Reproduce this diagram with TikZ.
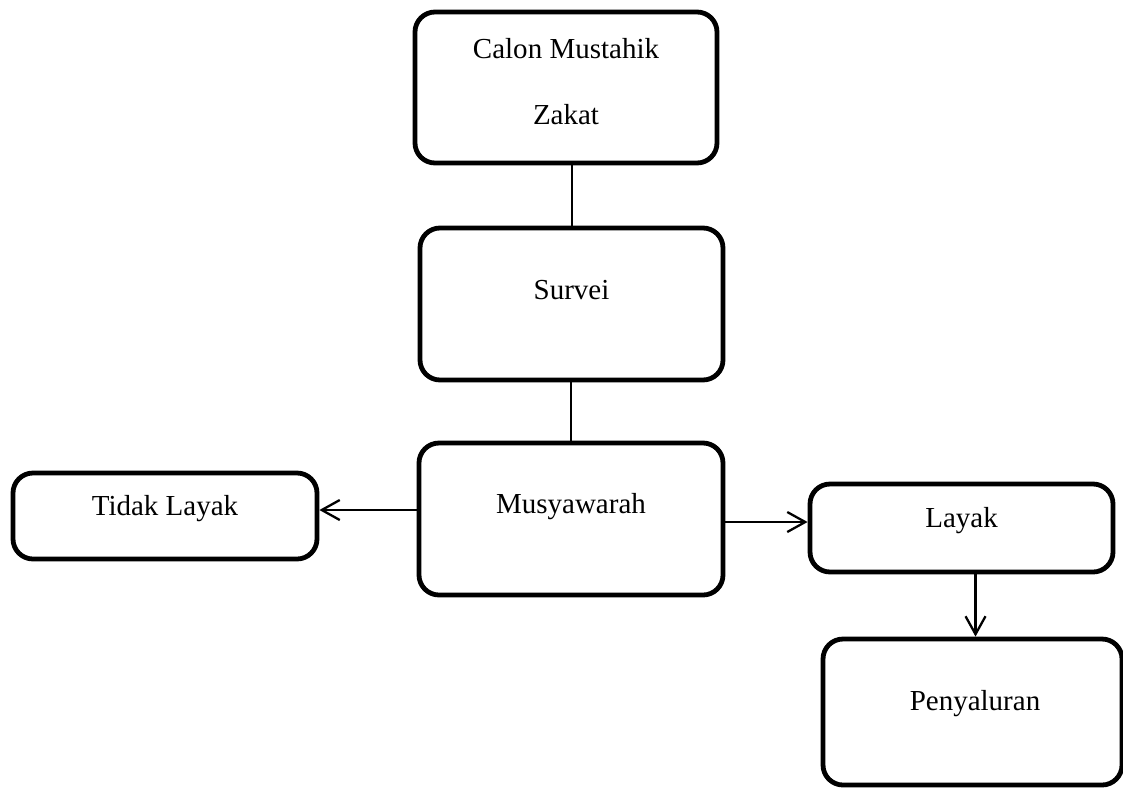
\documentclass[tikz,border=0pt]{standalone}
\usepackage{fontspec}
\setmainfont{Liberation Serif}
\usetikzlibrary{arrows.meta}
\tikzset{
  box/.style={draw=black, line width=2.4pt, rounded corners=10pt, inner sep=0pt, fill=white},
  lbl/.style={anchor=base, inner sep=0pt, font=\fontsize{14.5pt}{17pt}\selectfont},
  conn/.style={line width=1pt},
  arr/.style={line width=1.15pt, -{Straight Barb[length=9pt,width=10pt,line width=1.15pt]}}
}
\begin{document}
\begin{tikzpicture}[x=0.5pt,y=-0.5pt]
\useasboundingbox (0,0) rectangle (1123,788);
% boxes
\node[box, minimum width=151pt, minimum height=75.5pt] (cm) at (566,87.5) {};
\node[box, minimum width=151.5pt, minimum height=76pt] (sv) at (571.5,304) {};
\node[box, minimum width=152pt, minimum height=76pt] (mw) at (571,519) {};
\node[box, minimum width=152pt, minimum height=43pt] (tl) at (165,516) {};
\node[box, minimum width=151.5pt, minimum height=44pt] (ly) at (961.5,528) {};
\node[box, minimum width=149.5pt, minimum height=73pt] (py) at (972.5,712) {};
% texts
\node[lbl] (tcm1) at (566,58) {Calon Mustahik};
\node[lbl] (tcm2) at (566,124) {Zakat};
\node[lbl] (tsv) at (571.5,299) {Survei};
\node[lbl] (tmw) at (571,513) {Musyawarah};
\node[lbl] (ttl) at (165,515) {Tidak Layak};
\node[lbl] (tly) at (961.5,527) {Layak};
\node[lbl] (tpy) at (975,710) {Penyaluran};
% connectors
\draw[conn] (sv.north) -- (sv.north |- cm.south);
\draw[conn] (mw.north) -- (mw.north |- sv.south);
\coordinate (tlin) at ([yshift=3pt]tl.east);
\draw[arr] (mw.west |- tlin) -- (tlin);
\coordinate (lyin) at ([yshift=3pt]ly.west);
\draw[arr] (mw.east |- lyin) -- (lyin);
\coordinate (pyin) at ([xshift=1.5pt]py.north);
\draw[arr] (ly.south -| pyin) -- (pyin);
\end{tikzpicture}
\end{document}
